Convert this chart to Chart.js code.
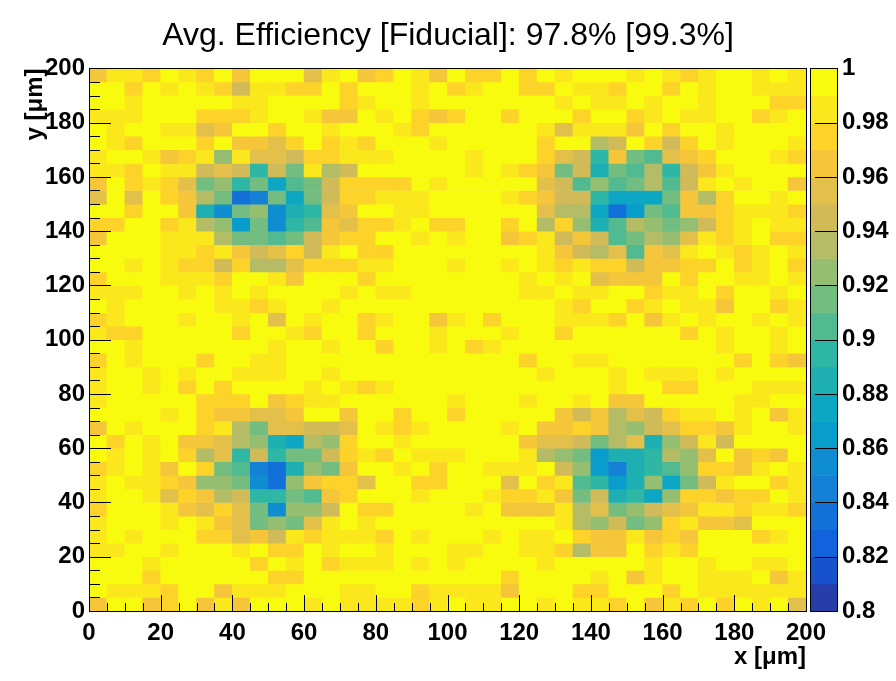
<!DOCTYPE html>
<html>
<head>
<meta charset="utf-8">
<script src="https://cdn.jsdelivr.net/npm/chart.js@4.4.1/dist/chart.umd.min.js"></script>
<style>
  html, body { margin: 0; padding: 0; background: #fff; }
  canvas { display: block; }
</style>
</head>
<body>
<canvas id="effmap" width="896" height="681"></canvas>
<script>
// bin edges in um, same binning on x and y
const binEdges = [0, 5, 10, 15, 20, 25, 30, 35, 40, 45, 50, 55, 60, 65, 70, 75, 80, 85, 90, 95, 100,
  105, 110, 115, 120, 125, 130, 135, 140, 145, 150, 155, 160, 165, 170, 175, 180, 185, 190, 195, 200];
const axisTicks = [0, 20, 40, 60, 80, 100, 120, 140, 160, 180, 200];
const zTicks = [0.8, 0.82, 0.84, 0.86, 0.88, 0.9, 0.92, 0.94, 0.96, 0.98, 1];
const zBands = [0.80, 0.81, 0.82, 0.83, 0.84, 0.85, 0.86, 0.87, 0.88, 0.89,
  0.90, 0.91, 0.92, 0.93, 0.94, 0.95, 0.96, 0.97, 0.98, 0.99, 1.00];

// efficiency in % (lower edge of the colour band), top row (y=195-200) first, x from 0 to 200
const effRows = [
  [96,98,98,97,99,98,97,99,96,99,99,99,95,98, 99,96,97,99,98,96,99,97,97,99,97,99,98, 99,99,99,98,99,98,97,98,99,99,98,99,98],
  [99,99,97,99,98,99,98,97,94,98,98,97,97,99, 97,99,99,99,98,99,97,98,99,99,97,97,99, 98,98,97,99,99,97,99,98,99,99,98,98,98],
  [99,99,98,99,99,99,99,99,98,98,99,99,99,99, 97,98,99,99,98,99,99,99,99,99,99,99,98, 99,98,98,99,98,99,99,98,99,99,99,97,97],
  [98,98,98,99,99,99,97,97,97,98,99,99,98,96, 96,99,98,99,97,96,97,99,99,97,99,99,99, 97,99,99,97,98,99,98,98,99,99,97,98,99],
  [99,98,99,99,98,98,95,96,99,99,97,99,99,98, 99,99,99,98,97,99,99,99,99,99,99,98,95, 98,98,98,96,99,97,99,99,98,99,99,99,99],
  [99,98,97,99,99,99,97,99,96,96,95,97,99,97, 98,97,99,99,99,98,99,99,99,99,99,97,99, 99,93,94,99,97,94,97,99,98,99,99,99,98],
  [98,99,99,98,96,97,98,92,98,95,95,94,97,97, 98,98,98,99,99,99,99,98,99,99,99,97,95, 94,89,96,91,90,95,96,97,99,99,99,98,97],
  [98,98,97,99,98,98,94,95,94,89,94,91,98,93, 94,99,99,99,99,99,99,98,99,98,97,96,91, 94,88,91,90,93,89,94,96,98,99,99,99,99],
  [96,99,97,98,97,95,91,92,89,91,87,90,91,94, 97,97,97,97,99,98,99,99,99,99,99,95,94, 90,92,90,91,93,90,94,98,99,98,99,99,96],
  [95,99,95,99,97,96,93,91,83,84,91,87,91,94, 97,97,98,98,98,99,99,99,99,98,97,96,94, 94,89,87,87,87,91,96,93,97,99,99,98,99],
  [99,99,97,99,99,96,88,85,91,92,85,88,89,95, 96,99,99,98,98,99,99,99,99,99,99,95,93, 93,87,83,86,91,90,96,96,97,98,98,98,97],
  [97,97,99,99,97,98,93,92,86,91,85,89,90,96, 95,97,97,98,99,97,97,99,99,97,99,93,97, 92,88,90,93,92,91,92,94,97,98,99,98,98],
  [96,99,99,99,98,98,98,93,91,91,90,91,94,96, 97,97,99,99,98,99,98,99,99,96,97,98,94, 96,94,90,91,93,92,95,98,97,98,99,97,97],
  [99,99,99,99,98,98,97,98,96,94,95,97,94,98, 99,97,97,99,99,99,99,99,99,99,99,98,96, 94,93,95,90,96,95,98,99,98,97,98,99,98],
  [99,99,98,99,98,97,97,94,97,93,93,95,97,97, 97,98,98,99,99,99,98,99,99,98,99,98,97, 98,97,97,94,96,96,97,97,99,97,98,99,97],
  [97,99,99,99,98,98,98,97,99,99,98,96,99,99, 99,97,99,99,99,99,99,99,99,99,98,99,98, 99,95,96,96,96,99,97,99,99,98,98,99,98],
  [98,98,98,99,99,98,99,98,99,98,99,99,99,99, 98,99,98,98,99,99,99,99,99,99,98,98,99, 98,98,99,99,97,98,98,99,97,99,99,98,99],
  [99,98,99,99,99,99,99,98,98,97,98,99,99,98, 99,99,99,99,99,99,99,99,99,99,99,99,98, 97,99,99,97,98,99,98,98,96,99,99,97,98],
  [97,98,99,99,99,98,99,99,98,99,95,99,98,99, 99,97,98,99,99,96,98,99,97,99,99,99,98, 98,98,97,99,96,98,99,98,99,99,98,99,98],
  [98,97,97,99,99,99,99,99,97,99,99,98,97,99, 99,97,99,99,99,98,99,99,99,98,99,99,97, 99,99,99,99,99,99,97,99,98,99,99,98,99],
  [99,99,98,99,99,99,99,99,99,99,98,99,99,98, 99,99,97,99,99,98,99,97,98,99,99,99,99, 99,99,99,99,99,99,99,99,98,99,99,98,99],
  [97,99,98,99,99,99,97,99,99,98,98,99,99,99, 99,99,99,99,99,99,99,99,99,99,97,99,99, 98,98,99,99,99,99,99,99,99,97,99,97,96],
  [98,99,99,98,99,98,99,99,98,98,98,99,99,98, 99,99,99,99,99,99,99,99,99,99,99,98,99, 99,99,98,99,98,98,98,99,98,99,99,99,99],
  [98,99,99,98,99,97,99,97,99,99,99,99,98,99, 98,97,98,99,99,99,99,99,99,99,99,99,99, 99,99,98,99,99,97,97,99,99,99,98,98,98],
  [98,99,99,99,99,99,97,97,97,99,96,97,98,98, 99,99,99,99,99,99,98,99,99,99,98,99,99, 98,99,96,96,99,99,99,99,99,98,98,99,99],
  [99,99,99,99,98,99,97,96,96,95,95,96,99,99, 96,99,99,97,99,99,97,99,99,99,99,99,96, 94,96,93,95,94,97,98,98,99,98,99,96,98],
  [96,99,98,99,99,99,97,98,93,91,95,95,94,94, 95,99,98,97,98,99,99,99,99,98,99,96,96, 97,96,93,92,94,95,97,97,96,98,99,99,98],
  [99,97,99,98,99,96,96,95,93,92,88,87,93,92, 97,99,99,98,99,99,99,99,99,99,96,95,95, 94,91,93,95,88,92,94,98,94,99,99,99,99],
  [99,98,99,98,99,97,93,95,89,94,89,91,91,94, 97,98,97,99,98,98,98,99,99,99,98,93,92, 91,86,88,88,89,93,92,95,99,96,97,96,99],
  [97,98,99,98,96,99,97,91,90,84,83,88,92,91, 96,99,99,98,99,97,99,99,98,98,98,99,94, 92,86,84,88,89,90,92,97,97,96,98,99,98],
  [98,99,98,98,97,96,92,92,91,85,83,92,96,97, 97,95,99,99,97,97,99,99,99,95,99,97,98, 90,89,86,88,92,87,91,94,98,99,99,97,98],
  [98,99,99,98,95,97,96,93,94,89,89,91,90,96, 97,99,99,99,98,99,99,99,98,97,97,98,96, 91,94,88,89,87,92,97,97,96,97,97,99,98],
  [97,99,99,99,98,96,95,97,95,91,85,92,92,94, 99,97,97,99,99,99,99,98,99,96,96,96,98, 93,95,91,92,94,95,96,98,98,97,98,98,97],
  [98,99,99,99,98,99,98,96,95,91,92,91,95,98, 99,98,99,99,99,99,99,99,99,99,99,99,98, 93,92,94,91,92,97,98,96,96,95,99,99,99],
  [98,99,98,99,99,99,97,97,95,96,94,98,97,98, 98,98,97,99,98,99,99,99,98,99,98,98,99, 97,96,96,98,96,97,96,99,99,99,97,98,99],
  [98,98,99,99,98,99,99,99,98,99,97,97,99,98, 99,99,98,99,99,99,98,98,99,99,98,98,97, 93,96,96,99,97,98,97,99,99,99,99,99,99],
  [99,99,99,98,99,99,99,99,99,97,99,98,99,97, 98,98,98,99,98,99,98,99,99,99,99,98,99, 99,99,99,99,98,99,99,98,99,99,98,98,99],
  [99,99,99,97,99,99,99,99,99,99,97,97,99,99, 99,99,99,99,99,99,99,99,99,97,99,99,99, 99,98,99,96,98,99,99,98,98,98,99,96,98],
  [99,98,98,98,97,99,99,96,98,98,98,99,99,99, 98,98,99,99,97,98,98,98,98,96,99,99,99, 97,97,99,99,99,97,99,98,98,98,98,98,98],
  [96,99,99,96,97,99,96,98,96,99,99,99,98,99, 98,98,98,98,97,98,99,98,98,99,99,98,99, 98,98,97,99,96,98,97,99,97,99,98,99,95]
];

// ROOT kBird palette
const birdStops = [0.0, 0.125, 0.25, 0.375, 0.5, 0.625, 0.75, 0.875, 1.0];
const birdR = [0.2082, 0.0592, 0.0780, 0.0232, 0.1802, 0.5301, 0.8186, 0.9956, 0.9764];
const birdG = [0.1664, 0.3599, 0.5041, 0.6419, 0.7178, 0.7492, 0.7328, 0.7862, 0.9832];
const birdB = [0.5293, 0.8684, 0.8385, 0.7914, 0.6425, 0.4662, 0.3499, 0.1968, 0.0539];

function birdColor(t) {
  let i = 0;
  while (i < birdStops.length - 2 && t > birdStops[i + 1]) i++;
  const f = (t - birdStops[i]) / (birdStops[i + 1] - birdStops[i]);
  const c = arr => Math.round(255 * (arr[i] + f * (arr[i + 1] - arr[i])));
  return `rgb(${c(birdR)},${c(birdG)},${c(birdB)})`;
}

// 20 contour levels between 0.8 and 1.0
function bandColor(pct) {
  const k = Math.min(19, Math.max(0, Math.round(pct) - 80));
  const idx = Math.floor(0.01 + (k + 0.99) * 255 / 20);
  return birdColor(idx / 254);
}

const nRows = effRows.length;
const datasets = effRows.map((row, r) => {
  const j = nRows - 1 - r;
  return {
    label: 'y ' + binEdges[j] + '-' + binEdges[j + 1],
    data: row.map((v, i) => ({ x: (binEdges[i] + binEdges[i + 1]) / 2, y: [binEdges[j], binEdges[j + 1]], v })),
    backgroundColor: row.map(bandColor),
    borderWidth: 0,
    barPercentage: 1,
    categoryPercentage: 1,
    grouped: false
  };
});

const tickFont = { family: 'Liberation Sans', size: 24, weight: 'bold' };

const rootDecor = {
  id: 'rootDecor',
  afterDatasetsDraw(chart) {
    const { ctx, chartArea: a, scales: { x, y, z } } = chart;
    const snap = p => Math.round(p) + 0.5;
    const line = (x1, y1, x2, y2) => { ctx.beginPath(); ctx.moveTo(x1, y1); ctx.lineTo(x2, y2); ctx.stroke(); };
    ctx.save();
    ctx.strokeStyle = '#000';
    ctx.lineWidth = 1;

    // ticks on the inner side of the frame
    binEdges.forEach(v => {
      const px = snap(x.getPixelForValue(v));
      line(px, a.bottom, px, a.bottom - (v % 20 === 0 ? 16 : 8));
      const py = snap(y.getPixelForValue(v));
      line(a.left, py, a.left + (v % 20 === 0 ? 22 : 11), py);
    });
    ctx.strokeRect(snap(a.left), snap(a.top), Math.round(a.right - a.left), Math.round(a.bottom - a.top));

    // colour palette
    const cbL = a.right + 4, cbR = a.right + 31;
    for (let k = 0; k < zBands.length - 1; k++) {
      const y0 = z.getPixelForValue(zBands[k]);
      const y1 = z.getPixelForValue(zBands[k + 1]);
      ctx.fillStyle = bandColor(zBands[k] * 100);
      ctx.fillRect(cbL, y1, cbR - cbL, y0 - y1 + 0.5);
    }
    ctx.strokeRect(snap(cbL), snap(a.top), Math.round(cbR - cbL), Math.round(a.bottom - a.top));
    zTicks.forEach(v => {
      const py = snap(z.getPixelForValue(v));
      line(cbR - 22, py, snap(cbR), py);
    });

    // axis titles
    ctx.fillStyle = '#000';
    ctx.font = 'bold 24px "Liberation Sans"';
    ctx.textBaseline = 'middle';
    ctx.textAlign = 'right';
    ctx.fillText('x [\u03bcm]', a.right, 657);
    ctx.translate(35, a.top);
    ctx.rotate(-Math.PI / 2);
    ctx.fillText('y [\u03bcm]', 0, 0);
    ctx.restore();
  }
};

new Chart(document.getElementById('effmap'), {
  type: 'bar',
  data: { datasets },
  options: {
    responsive: false,
    animation: false,
    layout: { padding: 0 },
    plugins: {
      legend: { display: false },
      title: {
        display: true,
        text: 'Avg. Efficiency [Fiducial]: 97.8% [99.3%]',
        color: '#000',
        font: { family: 'Liberation Sans', size: 32, weight: 'normal' },
        padding: { top: 17, bottom: 13 }
      },
      tooltip: {
        callbacks: {
          label: ctx => 'x ' + ctx.raw.x + ', ' + ctx.dataset.label + ': ' + ctx.raw.v + '%'
        }
      }
    },
    scales: {
      x: {
        type: 'linear', min: 0, max: 200, offset: false,
        grid: { display: false, drawTicks: false, offset: false },
        border: { display: false },
        afterBuildTicks: s => { s.ticks = axisTicks.map(v => ({ value: v })); },
        ticks: { autoSkip: false, maxRotation: 0, padding: 8, color: '#000', font: tickFont },
        afterFit: s => { s.height = 70; }
      },
      y: {
        type: 'linear', min: 0, max: 200,
        grid: { display: false, drawTicks: false },
        border: { display: false },
        afterBuildTicks: s => { s.ticks = axisTicks.map(v => ({ value: v })); },
        ticks: { autoSkip: false, padding: 4, color: '#000', font: tickFont },
        afterFit: s => { s.width = 89; }
      },
      z: {
        type: 'linear', position: 'right', min: 0.8, max: 1.0,
        grid: { display: false, drawTicks: false },
        border: { display: false },
        afterBuildTicks: s => { s.ticks = zTicks.map(v => ({ value: v })); },
        ticks: { autoSkip: false, padding: 36, color: '#000', font: tickFont, callback: v => String(+v.toFixed(2)) },
        afterFit: s => { s.width = 90; }
      }
    }
  },
  plugins: [rootDecor]
});
</script>
</body>
</html>
